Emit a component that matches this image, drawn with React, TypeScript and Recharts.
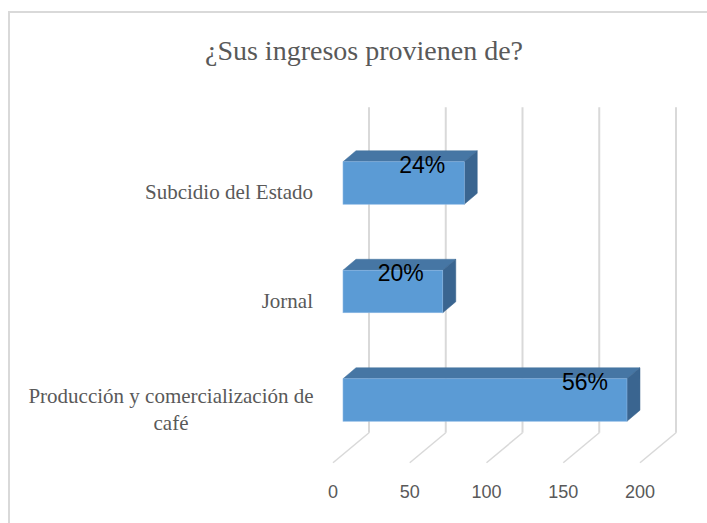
import { BarChart, Bar, XAxis, YAxis, CartesianGrid, LabelList } from 'recharts';

const categories = ['Subcidio del Estado', 'Jornal', 'Producción y comercialización de café'];
const values = [79, 65, 185];
const pctLabels = ['24%', '20%', '56%'];
const xTicks = [0, 50, 100, 150, 200];

const data = categories.map((name, i) => ({ name, value: values[i], pct: pctLabels[i] }));

// 3D offsets (bar depth, back wall from bar plane, front floor from bar plane)
const DEPTH_X = 13;
const DEPTH_Y = -11;
const BACK_X = 26;
const BACK_Y = -21.5;
const FRONT_X = -10;
const FRONT_Y = 8.5;

const GRID = '#d9d9d9';
const TEXT = '#595959';

const Bar3D = (props: any) => {
  const { x, y, width, height } = props;
  if (width == null || height == null) return null;
  const w = width;
  const h = height;
  const top = `${x},${y} ${x + DEPTH_X},${y + DEPTH_Y} ${x + w + DEPTH_X},${y + DEPTH_Y} ${x + w},${y}`;
  const side = `${x + w},${y} ${x + w + DEPTH_X},${y + DEPTH_Y} ${x + w + DEPTH_X},${y + h + DEPTH_Y} ${x + w},${y + h}`;
  return (
    <g>
      <polygon points={top} fill="#4676a4" stroke="#41719c" strokeWidth={0.5} />
      <polygon points={side} fill="#3a6590" stroke="#36608a" strokeWidth={0.5} />
      <rect x={x} y={y} width={w} height={h} fill="#5b9bd5" stroke="#8db8e4" strokeWidth={0.6} />
    </g>
  );
};

const GridLine = (props: any) => {
  const { x1, y1, y2 } = props;
  const bx = x1 + BACK_X;
  return (
    <g>
      <line x1={bx} y1={y1 + BACK_Y} x2={bx} y2={y2 + BACK_Y} stroke={GRID} strokeWidth={2} />
      <line x1={bx} y1={y2 + BACK_Y} x2={x1 + FRONT_X} y2={y2 + FRONT_Y} stroke={GRID} strokeWidth={1.5} />
    </g>
  );
};

const XTick = (props: any) => {
  const { x, payload } = props;
  return (
    <text x={x + FRONT_X} y={498} textAnchor="middle" fill={TEXT} fontSize={18} fontFamily="Liberation Sans, Arial, sans-serif">
      {payload.value}
    </text>
  );
};

const YTick = (props: any) => {
  const { x, y, payload } = props;
  const label: string = payload.value;
  const right = x - 22;
  const style = { fill: TEXT, fontSize: 21, fontFamily: 'Liberation Serif, Times New Roman, serif' };
  if (label.length > 30) {
    const cut = label.lastIndexOf(' ');
    return (
      <text x={right - 142} y={y + 3} textAnchor="middle" {...style}>
        <tspan x={right - 142}>{label.slice(0, cut)}</tspan>
        <tspan x={right - 142} dy={26.6}>{label.slice(cut + 1)}</tspan>
      </text>
    );
  }
  return (
    <text x={right} y={y + 16} textAnchor="end" {...style}>
      {label}
    </text>
  );
};

const ValueLabel = (props: any) => {
  const { x, y, width, value } = props;
  return (
    <text x={x + width - 42} y={y + 11} textAnchor="middle" fill="#000" fontSize={23} fontFamily="Liberation Sans, Arial, sans-serif">
      {value}
    </text>
  );
};

export default function App() {
  return (
    <div style={{ position: 'absolute', left: 0, top: 0, width: 707, height: 523, overflow: 'hidden', background: '#fff' }}>
      <div style={{ position: 'absolute', left: 8, top: 11, width: 800, height: 600, border: '2px solid #d9d9d9' }} />
      <div
        style={{
          position: 'absolute',
          left: 0,
          top: 35,
          width: 728,
          textAlign: 'center',
          fontFamily: 'Liberation Serif, Times New Roman, serif',
          fontSize: 28,
          lineHeight: '32px',
          color: TEXT,
        }}
      >
        ¿Sus ingresos provienen de?
      </div>
      <div style={{ position: 'absolute', left: 0, top: 0 }}>
        <BarChart
          width={707}
          height={523}
          data={data}
          layout="vertical"
          margin={{ top: 128.75, right: 57, bottom: 0, left: 0 }}
          barSize={42.5}
        >
          <CartesianGrid horizontal={false} vertical={GridLine} stroke={GRID} />
          <XAxis
            type="number"
            domain={[0, 200]}
            ticks={xTicks}
            height={68.75}
            axisLine={false}
            tickLine={false}
            tick={XTick}
            interval={0}
          />
          <YAxis type="category" dataKey="name" width={343} axisLine={false} tickLine={false} tick={YTick} interval={0} />
          <Bar dataKey="value" shape={Bar3D} isAnimationActive={false}>
            <LabelList dataKey="pct" content={ValueLabel} />
          </Bar>
        </BarChart>
      </div>
    </div>
  );
}
